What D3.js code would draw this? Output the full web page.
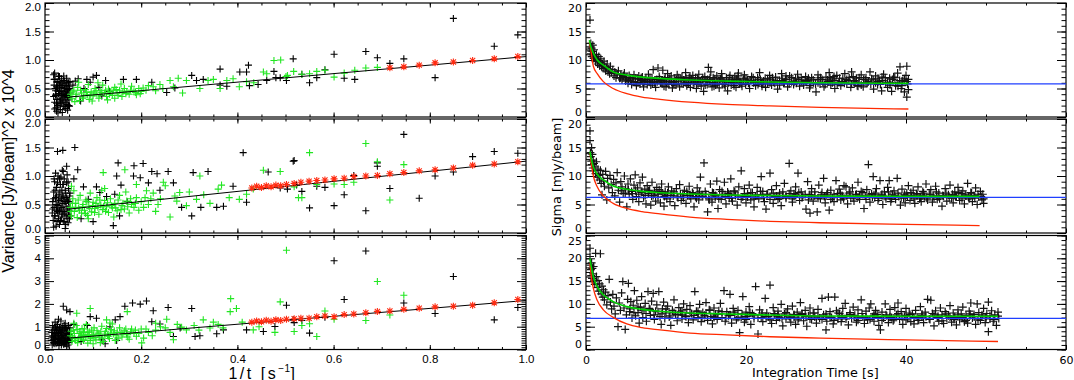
<!DOCTYPE html>
<html>
<head>
<meta charset="utf-8">
<script src="https://cdn.jsdelivr.net/npm/d3@7"></script>
<style>
  body { margin: 0; background: #fff; }
  svg { display: block; }
</style>
</head>
<body>
<svg width="1074" height="380"></svg>
<script>
// ---------- left column: variance vs 1/t ----------
const blackL1 = [
  [0.018,0.74],[0.020,0.77],[0.021,0.66],[0.019,0.56],[0.022,0.46],[0.018,0.36],[0.020,0.26],[0.023,0.16],[0.024,0.10],[0.025,0.31],
  [0.026,0.51],[0.027,0.61],[0.028,0.41],[0.029,0.21],[0.030,0.55],[0.031,0.33],[0.032,0.13],[0.033,0.47],[0.034,0.67],[0.035,0.26],
  [0.036,0.40],[0.037,0.58],[0.038,0.19],[0.039,0.35],[0.040,0.50],[0.041,0.63],[0.042,0.28],[0.043,0.15],[0.044,0.44],[0.045,0.55],
  [0.046,0.22],[0.047,0.36],[0.048,0.48],[0.049,0.60],[0.050,0.30],[0.051,0.19],[0.052,0.42],[0.024,0.53],[0.030,0.71],[0.036,0.08],
  [0.045,0.68],[0.050,0.53],[0.027,0.07],[0.033,0.24],[0.041,0.37],[0.047,0.12],[0.022,0.38],[0.039,0.72],
  [0.019,0.66],[0.021,0.50],[0.023,0.40],[0.025,0.62],[0.026,0.20],[0.028,0.72],[0.029,0.45],[0.031,0.60],[0.032,0.28],[0.034,0.38],
  [0.035,0.52],[0.037,0.30],[0.038,0.64],[0.040,0.18],[0.042,0.55],[0.043,0.40],[0.044,0.25],[0.046,0.60],[0.048,0.34],[0.049,0.20],
  [0.051,0.50],[0.052,0.62],[0.020,0.14],[0.024,0.24],[0.030,0.45],[0.033,0.58],[0.039,0.42],[0.041,0.50],[0.045,0.38],[0.047,0.46],
  [0.058,0.56],[0.063,0.63],[0.069,0.67],[0.074,0.28],[0.081,0.50],[0.087,0.66],[0.094,0.61],[0.100,0.70],[0.107,0.73],[0.112,0.52],
  [0.118,0.37],[0.126,0.64],[0.134,0.45],[0.163,0.66],[0.190,0.66],[0.222,0.61],[0.253,0.43],[0.270,0.51],[0.305,0.73],[0.315,0.64],
  [0.329,0.66],[0.364,0.84],[0.364,0.56],[0.378,0.54],[0.405,0.79],[0.419,0.79],[0.423,0.91],[0.425,0.55],[0.443,0.57],[0.461,0.64],
  [0.476,0.80],[0.480,0.69],[0.502,0.64],[0.516,1.02],[0.489,0.69],[0.534,0.75],[0.550,0.60],[0.565,0.69],[0.582,0.83],[0.601,1.10],
  [0.622,0.68],[0.644,0.66],[0.667,1.15],[0.691,1.04],[0.717,0.94],[0.746,1.02],[0.811,0.69],[0.849,1.73],[0.934,1.24],[0.983,1.44]
];
const greenL1 = [
  [0.053,0.40],[0.056,0.32],[0.060,0.47],[0.064,0.36],[0.068,0.52],[0.072,0.29],[0.076,0.42],[0.080,0.35],[0.084,0.48],[0.088,0.39],
  [0.092,0.31],[0.096,0.44],[0.100,0.37],[0.104,0.50],[0.108,0.40],[0.112,0.33],[0.116,0.46],[0.120,0.56],[0.124,0.42],[0.128,0.36],
  [0.132,0.49],[0.136,0.44],[0.140,0.38],[0.145,0.52],[0.150,0.42],[0.155,0.47],[0.160,0.36],[0.165,0.50],[0.170,0.44],[0.175,0.40],
  [0.180,0.54],[0.185,0.46],[0.190,0.39],[0.195,0.50],[0.200,0.45],[0.110,0.60],[0.090,0.57],[0.070,0.61],[0.130,0.30],[0.062,0.27],
  [0.098,0.28],[0.145,0.33],[0.158,0.58],
  [0.054,0.36],[0.058,0.44],[0.066,0.40],[0.074,0.47],[0.078,0.33],[0.086,0.43],[0.094,0.38],[0.102,0.42],[0.106,0.46],[0.114,0.39],
  [0.118,0.43],[0.126,0.47],[0.134,0.40],[0.142,0.46],[0.148,0.48],[0.152,0.38],[0.162,0.44],[0.168,0.41],[0.178,0.47],[0.188,0.43],
  [0.198,0.41],[0.210,0.47],[0.215,0.55],[0.230,0.46],[0.245,0.50],
  [0.204,0.51],[0.225,0.53],[0.239,0.57],[0.260,0.64],[0.267,0.53],[0.277,0.68],[0.286,0.42],[0.294,0.64],[0.322,0.50],[0.339,0.64],
  [0.350,0.66],[0.364,0.50],[0.378,0.64],[0.391,0.67],[0.404,0.53],[0.419,0.62],[0.434,0.60],[0.454,0.79],[0.461,0.76],[0.476,0.99],
  [0.490,1.00],[0.501,0.71],[0.517,0.80],[0.504,0.73],[0.534,0.75],[0.550,0.76],[0.565,0.80],[0.582,0.82],[0.601,0.70],[0.622,0.77],
  [0.644,0.82],[0.667,0.86],[0.691,0.87]
];
const blackL2 = [
  [0.015,0.35],[0.016,0.55],[0.017,0.22],[0.018,0.72],[0.019,0.45],[0.020,0.90],[0.021,0.30],[0.022,0.62],[0.023,0.12],[0.024,0.80],
  [0.025,0.50],[0.026,0.38],[0.027,1.00],[0.028,0.25],[0.029,0.68],[0.030,0.15],[0.031,0.57],[0.032,0.85],[0.033,0.42],[0.034,0.28],
  [0.035,0.75],[0.036,1.10],[0.037,0.52],[0.038,0.20],[0.039,0.63],[0.040,0.95],[0.041,0.35],[0.042,0.08],[0.043,0.70],[0.044,0.47],
  [0.045,0.88],[0.046,0.26],[0.047,0.58],[0.048,0.18],[0.049,0.78],[0.050,0.40],[0.051,0.65],[0.052,0.30],[0.018,0.10],[0.022,1.05],
  [0.027,0.48],[0.033,0.98],[0.038,0.85],[0.043,0.55],[0.046,1.02],[0.024,0.65],[0.030,0.40],[0.036,0.33],[0.041,0.20],[0.050,0.52],
  [0.016,0.42],[0.018,0.60],[0.020,0.30],[0.021,0.75],[0.023,0.50],[0.025,0.20],[0.026,0.88],[0.028,0.58],[0.029,0.35],[0.031,0.72],
  [0.032,0.22],[0.034,0.60],[0.035,0.45],[0.037,0.85],[0.039,0.38],[0.040,0.55],[0.042,0.75],[0.044,0.30],[0.045,0.62],[0.047,0.42],
  [0.048,0.90],[0.049,0.55],[0.051,0.25],[0.052,0.70],[0.019,0.95],[0.024,0.40],[0.030,0.95],[0.036,0.65],[0.043,0.15],[0.049,0.33],
  [0.026,1.43],[0.037,1.45],[0.062,1.50],[0.045,1.17],[0.068,1.11],[0.038,1.08],[0.080,0.81],[0.090,0.59],[0.107,0.81],[0.114,0.71],
  [0.128,0.64],[0.145,0.68],[0.152,1.23],[0.149,1.00],[0.158,0.84],[0.171,0.55],[0.185,1.18],[0.204,1.22],[0.184,1.00],[0.198,0.97],
  [0.215,0.88],[0.222,1.08],[0.233,1.04],[0.239,0.75],[0.256,1.08],[0.267,0.88],[0.284,0.45],[0.305,0.30],[0.308,1.06],[0.324,0.45],
  [0.339,1.08],[0.357,0.45],[0.371,0.47],[0.391,0.82],[0.419,0.54],[0.412,1.41],[0.464,1.07],[0.516,1.26],[0.523,0.84],[0.142,0.13],
  [0.155,0.30],[0.060,0.95],[0.075,0.25],[0.100,0.20],
  [0.489,0.79],[0.504,0.77],[0.518,1.27],[0.534,0.73],[0.550,0.44],[0.565,0.82],[0.582,0.80],[0.601,0.48],[0.622,0.67],[0.642,1.01],
  [0.667,0.39],[0.691,1.17],[0.691,1.23],[0.717,0.78],[0.746,1.73],[0.778,0.61],[0.811,1.00],[0.849,1.07],[0.889,1.34],[0.934,1.43],
  [0.983,1.40]
];
const greenL2 = [
  [0.053,0.45],[0.055,0.30],[0.058,0.60],[0.061,0.38],[0.064,0.52],[0.067,0.27],[0.070,0.44],[0.073,0.66],[0.076,0.35],[0.079,0.50],
  [0.082,0.40],[0.085,0.58],[0.088,0.31],[0.091,0.47],[0.094,0.70],[0.097,0.37],[0.100,0.54],[0.104,0.43],[0.108,0.62],[0.112,0.33],
  [0.116,0.49],[0.120,0.41],[0.124,0.57],[0.128,0.46],[0.132,0.36],[0.136,0.60],[0.140,0.44],[0.145,0.52],[0.150,0.39],[0.155,0.66],
  [0.160,0.48],[0.165,0.42],[0.170,0.56],[0.175,0.35],[0.180,0.50],[0.185,0.45],[0.190,0.62],[0.195,0.40],[0.060,0.74],[0.090,0.25],
  [0.118,0.75],[0.143,0.28],[0.168,0.72],
  [0.054,0.38],[0.057,0.52],[0.063,0.45],[0.069,0.58],[0.072,0.40],[0.078,0.46],[0.084,0.34],[0.087,0.55],[0.093,0.43],[0.099,0.48],
  [0.103,0.36],[0.106,0.52],[0.110,0.45],[0.114,0.58],[0.122,0.47],[0.126,0.38],[0.130,0.53],[0.138,0.48],[0.147,0.44],[0.152,0.58],
  [0.158,0.41],[0.162,0.52],[0.172,0.46],[0.178,0.60],[0.188,0.52],[0.200,0.55],[0.208,0.62],[0.215,0.50],[0.225,0.70],[0.240,0.60],
  [0.055,0.82],[0.121,1.06],[0.124,0.78],[0.166,1.11],[0.190,0.85],[0.211,0.74],[0.246,0.89],[0.250,0.83],[0.260,0.28],[0.274,0.56],
  [0.280,0.71],[0.294,0.48],[0.300,0.72],[0.315,0.59],[0.322,1.00],[0.330,0.67],[0.343,0.52],[0.360,0.77],[0.367,0.84],[0.383,0.62],
  [0.404,0.59],[0.419,0.68],[0.433,0.77],[0.454,1.10],[0.489,1.08],[0.527,0.62],[0.518,0.81],[0.534,0.62],[0.550,1.41],[0.565,0.85],
  [0.601,0.86],[0.622,0.85],[0.642,0.89],[0.667,1.57],[0.691,1.25],[0.717,0.58],[0.746,1.20],[0.220,0.60],[0.235,0.50],[0.270,0.65],
  [0.205,0.45],[0.230,0.38]
];
const blackL3 = [
  [0.013,0.40],[0.014,0.75],[0.015,0.20],[0.016,1.05],[0.017,0.55],[0.018,0.30],[0.019,0.90],[0.020,0.45],[0.021,1.20],[0.022,0.65],
  [0.023,0.25],[0.024,0.85],[0.025,0.50],[0.026,1.10],[0.027,0.35],[0.028,0.70],[0.029,0.18],[0.030,0.95],[0.031,0.58],[0.032,0.40],
  [0.033,1.25],[0.034,0.78],[0.035,0.28],[0.036,0.62],[0.037,1.00],[0.038,0.48],[0.039,0.22],[0.040,0.85],[0.041,0.55],[0.042,1.15],
  [0.043,0.35],[0.044,0.72],[0.045,0.15],[0.046,0.95],[0.047,0.45],[0.048,0.65],[0.049,1.05],[0.050,0.30],[0.051,0.80],[0.052,0.52],
  [0.016,0.60],[0.022,0.95],[0.028,0.45],[0.034,0.55],[0.040,0.30],[0.046,0.70],[0.025,0.75],[0.031,0.85],[0.037,0.38],[0.043,0.95],
  [0.014,0.55],[0.016,0.85],[0.018,0.45],[0.020,0.70],[0.022,0.35],[0.023,1.00],[0.025,0.60],[0.027,0.85],[0.029,0.50],[0.030,0.30],
  [0.032,0.75],[0.033,0.95],[0.035,0.45],[0.036,0.85],[0.038,0.65],[0.040,1.05],[0.041,0.40],[0.043,0.60],[0.044,0.90],[0.046,0.50],
  [0.047,0.80],[0.049,0.40],[0.050,0.65],[0.052,0.95],[0.019,0.25],[0.026,0.30],[0.034,0.20],[0.042,0.25],[0.048,0.20],[0.051,0.45],
  [0.038,1.90],[0.045,1.73],[0.052,1.66],[0.028,1.33],[0.094,1.44],[0.107,1.37],[0.118,0.43],[0.146,1.30],[0.149,0.40],[0.156,1.44],
  [0.166,1.90],[0.182,2.04],[0.198,1.99],[0.211,2.13],[0.225,1.70],[0.222,1.22],[0.239,1.12],[0.256,1.84],[0.267,0.57],[0.281,0.94],
  [0.305,1.80],[0.312,0.57],[0.322,0.60],[0.357,0.69],[0.371,0.86],[0.419,0.86],[0.454,0.79],[0.478,1.01],[0.502,1.94],[0.516,1.30],
  [0.060,1.10],[0.075,0.35],[0.088,1.05],[0.125,0.25],[0.135,1.00],[0.170,0.70],
  [0.518,1.18],[0.534,1.27],[0.550,0.72],[0.582,1.41],[0.601,3.89],[0.622,2.19],[0.667,4.32],[0.746,2.04],[0.811,1.58],[0.849,3.20],
  [0.934,1.30],[0.983,1.84]
];
const greenL3 = [
  [0.053,0.60],[0.056,0.35],[0.059,0.85],[0.062,0.48],[0.065,1.05],[0.068,0.30],[0.071,0.70],[0.074,0.55],[0.077,0.92],[0.080,0.40],
  [0.083,0.65],[0.086,1.10],[0.089,0.28],[0.092,0.78],[0.095,0.50],[0.098,0.62],[0.102,0.95],[0.106,0.42],[0.110,0.72],[0.114,0.55],
  [0.118,1.02],[0.122,0.35],[0.126,0.80],[0.130,0.60],[0.134,0.48],[0.138,0.88],[0.142,0.68],[0.146,0.40],[0.150,0.75],[0.155,0.95],
  [0.160,0.55],[0.165,0.82],[0.170,0.65],[0.175,0.45],[0.180,0.90],[0.185,0.70],[0.190,0.58],[0.060,1.15],[0.100,0.25],[0.140,1.12],
  [0.115,0.30],[0.080,0.75],
  [0.054,0.80],[0.057,0.55],[0.061,0.70],[0.064,0.40],[0.067,0.88],[0.070,0.50],[0.073,0.78],[0.076,0.62],[0.079,0.45],[0.082,0.90],
  [0.085,0.55],[0.088,0.75],[0.091,0.62],[0.094,0.40],[0.097,0.85],[0.101,0.65],[0.104,0.52],[0.108,0.82],[0.112,0.62],[0.116,0.78],
  [0.120,0.50],[0.124,0.68],[0.128,0.92],[0.132,0.58],[0.136,0.72],[0.144,0.82],[0.148,0.60],[0.152,0.50],[0.158,0.75],[0.162,0.68],
  [0.168,0.90],[0.172,0.55],[0.178,0.78],[0.188,0.85],[0.195,0.70],[0.200,0.90],[0.215,0.75],[0.230,0.85],[0.250,0.95],
  [0.066,1.59],[0.094,1.80],[0.128,1.30],[0.135,1.16],[0.171,1.66],[0.201,0.29],[0.205,0.50],[0.223,0.60],[0.253,1.33],[0.267,0.43],
  [0.284,0.98],[0.294,0.86],[0.329,1.30],[0.343,0.94],[0.385,1.66],[0.386,2.23],[0.398,1.80],[0.433,0.86],[0.502,4.35],[0.489,2.09],
  [0.478,0.75],[0.518,0.79],[0.534,1.05],[0.550,1.13],[0.565,0.57],[0.582,1.69],[0.601,1.33],[0.667,1.27],[0.691,2.98],[0.717,1.51],
  [0.746,2.38],[0.210,0.90],[0.240,1.00],[0.260,0.75],[0.310,1.05],[0.360,1.10],[0.370,0.95],[0.410,1.20],[0.445,1.00],[0.230,1.15],
  [0.275,1.10],[0.320,0.85],[0.350,1.20]
];
// red asterisks share the same 1/t positions
const redX  = [0.43,0.44,0.45,0.46,0.47,0.48,0.49,0.502,0.518,0.532,0.549,0.565,0.582,0.601,0.622,0.642,0.667,0.691,0.717,0.746,0.778,0.811,0.849,0.889,0.934,0.983];
const redL1 = [0.865,0.88,0.91,0.95,0.965,0.99,1.02,1.06];
const redL2 = [0.79,0.82,0.80,0.83,0.81,0.84,0.83,0.85,0.87,0.89,0.91,0.92,0.93,0.95,0.96,0.99,1.00,1.01,1.04,1.06,1.09,1.11,1.14,1.19,1.21,1.25];
const redL3 = [1.20,1.25,1.22,1.28,1.24,1.30,1.27,1.33,1.35,1.37,1.37,1.44,1.47,1.44,1.53,1.56,1.61,1.67,1.69,1.76,1.81,1.87,1.90,1.94,2.05,2.19];
const fitL1 = [[0.05,0.35],[1.0,1.06]];
const fitL2 = [[0.05,0.42],[1.0,1.26]];
const fitL3 = [[0.05,0.50],[1.0,2.15]];

// ---------- right column: sigma vs integration time ----------
const sigmaR1 = [
  [0.5,17.0],[0.5,12.3],[0.55,11.6],[0.6,12.9],[0.62,11.1],[0.7,12.1],[0.72,10.6],[0.8,11.5],[0.85,12.6],[0.9,10.9],
  [0.95,10.3],[1.0,11.8],[1.05,10.7],[1.15,10.4],[1.2,9.7],[1.3,11.0],[1.4,10.1],[1.45,9.3],[1.55,9.9],[1.6,10.6],
  [1.7,9.0],[1.8,9.6],[1.85,10.2],[1.95,8.8],[2.05,9.3],[2.15,8.5],[2.25,9.8],[2.35,8.9],[2.45,8.1],[2.55,8.7],
  [2.65,9.3],[2.75,7.9],[2.85,8.4],[2.95,7.6],[3.05,8.9],[3.2,7.8],[3.35,8.3],[3.5,7.2],[3.6,7.9],[3.75,6.9],
  [3.9,7.6],[4.05,8.1],[4.2,6.8],[4.35,7.4],[4.5,6.5],[4.65,7.1],[4.8,7.7],[4.95,6.3],[5.1,6.9],[5.25,5.9],
  [5.4,7.3],[5.55,6.5],[5.7,5.7],[5.85,6.8],[6.0,7.4],[6.15,6.1],[6.3,5.5],[6.45,6.7],[6.6,7.2],[6.75,5.8],
  [6.9,6.4],[7.05,7.0],[7.2,5.3],[7.35,6.2],[7.5,6.9],[7.65,5.7],[7.8,7.5],[7.95,6.3],[8.1,5.6],[8.25,6.8],
  [8.4,8.3],[8.55,6.0],[8.7,5.2],[8.85,6.6],[9.0,8.6],[9.15,7.1],[9.3,5.9],[9.45,6.4],[9.6,8.2],[9.75,5.4],
  [9.9,6.9],[10.05,6.2],[10.2,7.6],[10.35,5.7],[10.5,6.5],[10.65,7.2],[10.8,5.1],[10.95,6.0],[11.1,6.8],[11.25,5.6],
  [11.4,7.4],[11.55,6.3],[11.7,5.3],[11.85,6.7],[12.0,7.0],[12.15,5.8],[12.3,6.4],[12.45,7.8],[12.6,5.5],[12.75,6.1],
  [12.9,6.9],[13.05,5.2],[13.2,6.6],[13.35,7.3],[13.5,5.9],[13.65,6.3],[13.8,5.0],[13.95,6.8],[14.1,7.5],[14.25,6.0],
  [14.4,5.4],[14.55,6.6],[14.7,4.5],[14.85,7.1],[15.0,6.2],[15.15,5.7],[15.3,8.7],[15.45,6.5],[15.6,7.9],[15.75,5.3],
  [15.9,6.9],[16.05,6.0],[16.2,5.6],[16.35,7.2],[16.5,6.4],[16.65,5.1],[16.8,6.7],[16.95,7.6],[17.1,5.8],[17.25,6.3],
  [17.4,5.4],[17.55,6.9],[17.7,4.6],[17.85,6.1],[18.0,7.3],[18.15,5.6],[18.3,6.5],[18.45,6.0],[18.6,7.0],[18.75,5.2],
  [18.9,6.6],[19.05,7.7],[19.2,5.9],[19.35,6.2],[19.5,5.4],[19.65,6.8],[19.8,7.4],[19.95,5.7],[20.2,6.5],[20.45,5.0],
  [20.7,7.1],[20.95,6.0],[21.2,5.5],[21.45,6.9],[21.7,7.8],[21.95,5.8],[22.2,6.3],[22.45,5.2],[22.7,6.7],[22.95,7.3],
  [23.2,5.6],[23.45,6.1],[23.7,7.0],[23.95,4.9],[24.2,6.4],[24.45,7.6],[24.7,5.9],[24.95,6.6],[25.2,5.3],[25.45,7.2],
  [25.7,6.2],[25.95,5.7],[26.2,6.8],[26.45,7.5],[26.7,5.4],[26.95,6.3],[27.2,5.9],[27.45,7.1],[27.7,6.5],[27.95,5.1],
  [28.2,6.9],[28.45,6.0],[28.75,4.4],[29.0,7.4],[29.25,5.8],[29.5,6.6],[29.75,5.3],[30.0,7.0],[30.25,6.2],[30.4,7.8],
  [30.6,5.6],[30.85,6.7],[31.1,5.0],[31.35,7.3],[31.6,6.1],[31.85,5.5],[32.1,6.8],[32.35,7.6],[32.6,5.8],[32.85,6.4],
  [33.1,5.2],[33.2,7.9],[33.4,7.1],[33.65,6.0],[33.9,5.5],[34.15,6.9],[34.4,7.4],[34.65,5.3],[34.9,6.5],[35.15,5.9],
  [35.5,7.9],[35.7,6.7],[35.95,4.9],[36.2,7.2],[36.45,5.7],[36.7,6.3],[36.95,4.6],[37.2,7.5],[37.45,6.0],[37.7,5.2],
  [37.95,6.8],[38.2,4.5],[38.45,7.0],[38.7,5.5],[38.95,7.7],[39.25,8.8],[39.4,5.0],[39.6,6.4],[39.8,4.4],[40.0,7.3],
  [40.1,8.9],[40.1,3.5],[40.2,5.8],[40.3,6.6],[40.3,4.8],
  [5.3,6.4],[6.8,6.6],[8.0,6.1],[9.5,5.8],[11.0,6.2],[12.5,6.0],[14.0,6.5],[15.5,6.1],[17.0,6.4],[18.5,5.9],
  [20.0,6.2],[21.5,6.5],[23.0,6.0],[24.5,6.3],[26.0,6.1],[27.5,6.4],[29.0,6.0],[30.5,6.3],[32.0,6.1],[33.5,6.4],
  [35.0,6.0],[36.5,6.2],[38.0,6.1],[39.5,6.3],[10.0,5.3],[13.0,7.2],[16.0,5.4],[19.0,7.2],[22.0,5.4],[25.0,7.2],
  [28.0,5.5],[31.0,7.1],[34.0,5.4],[37.0,7.0],[39.0,5.4],
  [4.3,6.9],[4.7,7.3],[5.0,6.7],[5.6,6.9],[5.9,6.2],[6.2,6.8],[6.5,6.0],[6.9,6.9],[7.1,6.1],[7.4,6.6],
  [7.7,6.3],[8.0,6.9],[8.3,5.9],[8.6,6.5],[8.9,6.2],[9.2,6.7],[9.5,6.0],[9.8,6.6],[10.1,5.9],[10.4,6.8],
  [10.7,6.1],[11.0,5.7],[11.3,6.6],[11.6,6.9],[11.9,5.9],[12.2,6.5],[12.5,6.8],[12.8,5.8],[13.1,6.4],[13.4,6.1],
  [13.7,6.9],[14.0,5.7],[14.3,6.3],[14.6,6.9],[14.9,5.6],[15.2,6.6],[15.5,6.9],[15.8,6.0],[16.1,6.7],[16.4,5.8],
  [16.7,6.3],[17.0,6.9],[17.3,5.7],[17.6,6.5],[17.9,6.9],[18.2,6.1],[18.5,5.5],[18.8,6.7],[19.1,6.3],[19.4,5.8],
  [19.7,6.5],[20.0,6.8],[20.3,5.9],[20.6,6.4],[20.9,6.9],[21.2,6.1],[21.5,5.7],[21.8,6.6],[22.1,6.0],[22.4,6.8],
  [22.7,5.8],[23.0,6.5],[23.3,6.9],[23.6,5.9],[23.9,6.3],[24.2,5.6],[24.5,6.8],[24.8,6.1],[25.1,6.6],[25.4,5.8],
  [25.7,6.9],[26.0,6.3],[26.3,5.9],[26.6,6.6],[26.9,6.9],[27.2,5.6],[27.5,6.2],[27.8,6.8],[28.1,6.0],[28.4,6.5],
  [28.7,5.8],[29.0,6.6],[29.3,6.9],[29.6,6.1],[29.9,5.7],[30.2,6.5],[30.5,6.9],[30.8,6.0],[31.1,6.4],[31.4,5.7],
  [31.7,6.8],[32.0,6.2],[32.3,5.9],[32.6,6.6],[32.9,6.9],[33.2,5.8],[33.5,6.3],[33.8,6.8],[34.1,6.0],[34.4,5.6],
  [34.7,6.6],[35.0,6.9],[35.3,6.2],[35.6,5.8],[35.9,6.5],[36.2,6.0],[36.5,6.8],[36.8,5.7],[37.1,6.4],[37.4,6.9],
  [37.7,6.1],[38.0,5.6],[38.3,6.6],[38.6,6.9],[38.9,6.0],[39.2,6.4],[39.5,5.5],[39.8,6.7],[40.1,6.2]
];
const sigmaR2 = [
  [0.5,17.9],[0.5,16.2],[0.55,14.1],[0.6,13.4],[0.65,12.6],[0.7,15.0],[0.75,12.0],[0.8,13.8],[0.85,11.4],[0.9,12.8],
  [0.95,10.9],[1.0,12.2],[1.1,11.6],[1.2,10.4],[1.3,12.5],[1.4,9.8],[1.5,11.2],[1.6,10.1],[1.7,9.3],[1.8,11.0],
  [1.9,8.7],[2.0,6.7],[2.1,10.3],[2.2,9.1],[2.3,8.2],[2.45,10.8],[2.6,5.8],[2.7,9.6],[2.85,7.9],[3.0,10.1],
  [3.15,8.5],[3.3,7.1],[3.45,9.4],[3.6,6.5],[3.75,8.8],[3.9,10.6],[4.05,7.5],[4.2,5.4],[4.35,9.0],[4.5,8.1],
  [4.65,6.9],[4.8,10.0],[4.95,7.8],[5.1,4.6],[5.25,8.6],[5.4,6.8],[5.55,9.5],[5.7,7.3],[5.85,5.9],[6.0,8.4],
  [6.15,10.2],[6.3,6.4],[6.45,7.9],[6.6,5.5],[6.75,8.8],[6.9,7.1],[7.05,9.8],[7.2,6.2],[7.35,7.7],[7.5,5.1],
  [7.65,8.3],[7.8,6.9],[7.95,7.5],[8.1,4.9],[8.25,8.9],[8.4,6.6],[8.55,7.3],[8.7,5.6],[8.85,8.0],[9.0,6.3],
  [9.15,7.6],[9.3,5.3],[9.45,8.6],[9.6,6.9],[9.75,4.7],[9.9,7.2],[10.1,6.0],[10.3,8.1],[10.5,5.5],[10.7,7.4],
  [10.9,6.5],[11.1,4.8],[11.3,7.8],[11.5,6.2],[11.7,8.5],[11.9,5.7],[12.1,6.9],[12.3,7.5],[12.5,5.2],[12.7,6.6],
  [12.9,8.2],[13.1,6.0],[13.3,7.1],[13.5,4.6],[13.7,6.4],[13.9,7.9],[14.1,5.8],[14.3,9.8],[14.5,6.7],[14.75,12.3],
  [14.9,7.3],[15.2,3.7],[15.35,6.1],[15.55,8.6],[15.75,5.4],[15.95,7.0],[16.15,6.3],[16.35,9.1],[16.5,4.3],[16.7,7.6],
  [16.9,5.9],[17.1,6.8],[17.3,8.9],[17.5,5.1],[17.7,7.2],[17.9,6.1],[18.1,9.5],[18.3,5.6],[18.5,7.4],[18.7,6.6],
  [18.9,4.9],[19.1,8.1],[19.4,10.9],[19.6,6.3],[19.8,7.8],[20.0,5.3],[20.2,6.9],[20.4,8.4],[20.6,5.8],[20.8,7.1],
  [21.0,4.6],[21.2,6.5],[21.4,8.0],[21.6,6.0],[21.9,9.9],[22.1,7.3],[22.3,5.5],[22.5,4.2],[22.7,6.8],[23.0,10.5],
  [23.2,7.6],[23.4,5.2],[23.6,6.4],[23.8,8.3],[24.0,5.9],[24.2,7.0],[24.4,4.8],[24.6,6.6],[24.8,8.7],[25.0,6.1],
  [25.4,12.2],[25.6,7.4],[25.8,5.4],[26.0,6.9],[26.2,8.1],[26.5,10.5],[26.7,5.7],[26.9,7.2],[27.1,6.3],[27.5,4.2],
  [27.7,9.0],[27.9,6.7],[28.0,3.5],[28.2,7.8],[28.4,5.6],[28.6,6.5],[28.9,3.7],[29.1,8.4],[29.3,6.0],[29.5,7.1],
  [29.7,9.6],[29.9,5.3],[30.1,6.8],[30.4,4.0],[30.6,7.5],[30.8,6.2],[31.0,5.5],[31.25,9.2],[31.45,6.9],[31.65,7.7],
  [31.85,5.8],[32.05,6.4],[32.25,8.3],[32.5,8.1],[32.7,5.1],[32.9,7.0],[33.1,6.1],[33.3,7.9],[33.5,5.6],[33.7,6.7],
  [34.0,8.9],[34.2,5.9],[34.4,7.3],[34.75,4.3],[34.9,6.5],[35.1,7.6],[35.3,12.0],[35.5,5.4],[35.7,6.9],[35.9,9.9],
  [36.1,6.2],[36.3,7.8],[36.5,5.7],[36.75,9.2],[36.9,6.6],[37.1,5.0],[37.3,7.2],[37.5,6.0],[37.7,8.0],[37.9,9.2],
  [38.1,5.5],[38.3,6.8],[38.5,7.4],[38.7,5.9],[38.9,9.6],[39.1,6.4],[39.3,4.9],[39.5,7.7],[39.7,6.1],[39.9,5.3],
  [40.1,7.0],[40.3,8.3],[40.5,5.7],[40.7,6.6],[40.9,7.5],[41.1,5.2],[41.3,6.9],[41.5,8.1],[41.7,6.0],[41.9,5.5],
  [42.1,7.3],[42.3,6.4],[42.5,8.6],[42.7,5.8],[42.9,6.8],[43.1,7.6],[43.3,5.4],[43.5,6.2],[43.7,8.2],[43.9,5.9],
  [44.1,7.0],[44.5,4.7],[44.7,6.5],[44.9,7.8],[45.1,5.6],[45.3,6.7],[45.5,8.4],[45.7,6.1],[45.9,5.3],[46.1,7.2],
  [46.3,6.3],[46.5,8.0],[46.7,5.7],[46.9,6.9],[47.1,7.4],[47.3,5.1],[47.5,6.5],[47.7,8.7],[47.9,6.0],[48.1,7.1],
  [48.3,5.5],[48.5,6.6],[48.7,7.9],[48.9,5.0],[49.1,6.3],[49.3,7.3],[49.5,5.8],[49.6,6.8],[49.7,5.2],
  [10,6.6],[12,6.3],[14,6.9],[16,6.5],[18,6.8],[20,6.4],[22,6.7],[24,6.5],[26,6.4],[28,6.7],
  [30,6.5],[32,6.6],[34,6.3],[36,6.7],[38,6.4],[40,6.6],[42,6.5],[44,6.3],[46,6.6],[48,6.4],
  [4.4,7.4],[4.9,7.0],[5.3,7.6],[5.8,6.9],[6.2,7.5],[6.6,6.8],[7.0,7.3],[7.4,6.6],[7.8,7.4],[8.2,6.5],
  [8.6,7.1],[9.0,6.8],[9.4,7.3],[9.8,6.4],[10.2,7.0],[10.6,6.6],[11.0,7.2],[11.4,6.3],[11.8,6.9],[12.2,6.2],
  [12.6,7.3],[13.0,6.5],[13.4,6.9],[13.8,6.1],[14.2,7.2],[14.6,6.4],[15.0,6.8],[15.4,5.8],[15.8,7.1],[16.2,6.6],
  [16.6,6.0],[17.0,7.3],[17.4,6.4],[17.8,6.9],[18.2,6.1],[18.6,7.2],[19.0,6.5],[19.4,5.9],[19.8,6.9],[20.2,6.3],
  [20.6,7.1],[21.0,6.0],[21.4,6.7],[21.8,7.3],[22.2,6.2],[22.6,6.8],[23.0,5.9],[23.4,7.0],[23.8,6.5],[24.2,6.1],
  [24.6,7.2],[25.0,6.4],[25.4,6.9],[25.8,6.0],[26.2,6.7],[26.6,7.1],[27.0,6.2],[27.4,6.8],[27.8,5.8],[28.2,6.5],
  [28.6,7.2],[29.0,6.1],[29.4,6.7],[29.8,6.4],[30.2,7.1],[30.6,5.9],[31.0,6.8],[31.4,6.3],[31.8,7.0],[32.2,6.0],
  [32.6,6.6],[33.0,7.2],[33.4,6.2],[33.8,6.8],[34.2,6.5],[34.6,7.1],[35.0,5.9],[35.4,6.7],[35.8,6.3],[36.2,7.0],
  [36.6,6.1],[37.0,6.8],[37.4,6.4],[37.8,7.2],[38.2,6.0],[38.6,6.6],[39.0,7.0],[39.4,6.2],[39.8,6.8],[40.2,6.4],
  [40.6,7.1],[41.0,6.0],[41.4,6.7],[41.8,6.3],[42.2,7.0],[42.6,6.1],[43.0,6.8],[43.4,6.5],[43.8,7.2],[44.2,6.0],
  [44.6,6.6],[45.0,7.0],[45.4,6.2],[45.8,6.8],[46.2,6.4],[46.6,7.1],[47.0,6.0],[47.4,6.7],[47.8,6.3],[48.2,7.0],
  [48.6,6.1],[49.0,6.8],[49.4,6.4],[49.7,6.0]
];
const sigmaR3 = [
  [0.5,22.2],[0.5,20.4],[0.55,18.5],[0.6,17.5],[0.65,16.2],[0.7,19.0],[0.75,15.6],[0.8,17.8],[0.85,14.9],[0.9,16.6],
  [0.95,18.2],[1.0,15.2],[1.1,14.3],[1.2,21.1],[1.3,16.0],[1.4,13.6],[1.5,15.1],[1.6,12.8],[1.7,14.4],[1.8,21.0],
  [1.9,12.2],[2.0,13.9],[2.1,11.5],[2.2,13.1],[2.3,10.9],[2.45,12.6],[2.6,9.8],[2.75,11.8],[2.9,15.4],[3.05,10.4],
  [3.2,8.9],[3.35,12.1],[3.5,9.5],[3.65,7.8],[3.8,11.3],[4.0,5.0],[4.15,10.2],[4.3,8.6],[4.45,12.4],[4.6,14.9],
  [4.75,9.1],[4.9,4.4],[5.05,7.6],[5.2,11.0],[5.3,14.5],[5.45,8.3],[5.6,10.5],[5.75,6.9],[5.9,9.7],[6.05,12.9],
  [6.2,7.4],[6.35,10.8],[6.5,8.1],[6.65,5.8],[6.8,9.3],[6.95,11.6],[7.1,7.0],[7.25,8.8],[7.4,10.1],[7.55,6.2],
  [7.75,12.7],[7.9,9.0],[8.05,7.5],[8.2,10.6],[8.4,12.3],[8.55,6.6],[8.7,8.4],[8.85,9.8],[9.1,12.7],[9.25,7.2],
  [9.4,5.5],[9.55,8.9],[9.7,10.4],[9.85,6.8],[10.0,8.0],[10.2,9.5],[10.4,7.1],[10.6,5.3],[10.8,8.6],[11.0,10.9],
  [11.2,7.7],[11.4,6.3],[11.6,9.2],[11.8,8.2],[12.0,6.7],[12.2,10.0],[12.4,7.4],[12.6,8.8],[12.8,5.9],[13.0,9.6],
  [13.2,7.9],[13.4,6.5],[13.6,12.7],[13.8,8.4],[14.0,7.0],[14.2,9.9],[14.4,6.1],[14.6,8.1],[14.8,7.5],[15.0,10.3],
  [15.2,6.4],[15.4,8.7],[15.6,7.2],[15.8,5.6],[16.0,9.1],[16.2,7.8],[16.4,6.6],[16.6,8.5],[16.8,10.1],[17.0,7.0],
  [17.25,12.9],[17.4,6.2],[17.6,8.3],[17.8,7.4],[18.0,12.1],[18.2,5.8],[18.4,9.0],[18.6,7.7],[18.8,6.5],[19.0,8.6],
  [19.2,3.7],[19.4,7.1],[19.6,11.6],[19.8,6.0],[20.0,8.2],[20.2,7.3],[20.4,9.4],[20.6,5.5],[20.8,7.9],[21.0,6.8],
  [21.2,13.8],[21.5,3.4],[21.7,8.7],[21.9,7.0],[22.1,6.1],[22.4,11.2],[22.6,8.0],[22.8,7.2],[23.0,14.1],[23.2,5.7],
  [23.4,9.2],[23.6,7.6],[23.8,6.4],[24.0,8.4],[24.2,7.0],[24.4,9.9],[24.6,5.2],[24.8,7.8],[25.0,6.7],[25.2,8.9],
  [25.4,7.3],[25.6,6.0],[25.8,9.5],[26.0,7.5],[26.2,5.5],[26.4,8.2],[26.6,6.9],[26.8,10.3],[27.0,7.7],[27.2,6.3],
  [27.4,8.6],[27.6,5.1],[27.8,7.4],[28.0,9.1],[28.2,6.6],[28.4,8.0],[28.6,7.1],[28.8,5.8],[29.0,8.8],[29.2,6.9],
  [29.5,11.2],[29.7,7.6],[30.0,4.3],[30.1,6.2],[30.3,11.5],[30.5,8.3],[30.7,7.0],[30.9,5.6],[31.1,11.5],[31.3,8.5],
  [31.5,6.7],[31.7,7.9],[31.9,6.1],[32.1,9.0],[32.4,10.1],[32.6,7.3],[32.8,5.4],[33.0,8.1],[33.2,6.8],[33.4,9.3],
  [33.6,7.5],[33.8,6.0],[34.0,8.7],[34.4,10.9],[34.6,7.1],[34.8,5.7],[35.0,8.4],[35.2,6.5],[35.4,9.1],[35.6,10.0],
  [35.8,7.2],[36.0,6.2],[36.2,8.6],[36.4,7.7],[36.6,5.3],[36.8,4.3],[37.0,8.2],[37.2,6.9],[37.4,10.0],[37.6,7.4],
  [37.8,5.9],[38.0,8.8],[38.2,7.0],[38.4,6.3],[38.6,9.2],[38.8,7.6],[39.0,10.2],[39.2,6.6],[39.4,8.3],[39.6,5.5],
  [39.8,7.3],[40.0,9.0],[40.2,6.8],[40.4,8.0],[40.6,6.1],[40.8,7.8],[41.0,5.6],[41.2,8.6],[41.4,7.1],[41.6,6.4],
  [41.8,9.4],[42.0,7.5],[42.2,5.9],[42.4,8.2],[42.7,11.0],[42.9,6.7],[43.1,10.8],[43.3,7.9],[43.5,5.2],[43.7,8.5],
  [43.9,7.0],[44.1,6.2],[44.3,9.1],[44.5,7.6],[44.7,5.7],[44.9,8.3],[45.1,6.8],[45.3,7.4],[45.5,9.6],[45.7,6.0],
  [45.9,8.0],[46.1,7.2],[46.3,5.4],[46.5,8.7],[46.7,6.5],[46.9,7.8],[47.1,9.3],[47.3,6.1],[47.5,7.5],[47.7,5.8],
  [47.9,8.4],[48.1,10.2],[48.3,6.9],[48.5,7.7],[48.7,5.5],[48.9,10.0],[49.1,8.1],[49.3,6.4],[49.5,7.3],[49.7,9.0],
  [49.9,5.9],[50.1,7.9],[50.3,10.4],[50.3,3.9],[50.5,6.7],[50.7,8.5],[50.9,6.2],[51.1,7.6],[51.3,5.3],[51.5,8.2],
  [51.6,6.8],
  [12,7.6],[14,7.8],[16,7.3],[18,7.5],[20,7.2],[22,7.6],[24,7.3],[26,7.1],[28,7.4],[30,7.2],
  [32,7.5],[34,7.1],[36,7.4],[38,7.2],[40,7.5],[42,7.1],[44,7.3],[46,7.0],[48,7.4],[50,7.2],
  [5.5,8.9],[6.0,8.1],[6.5,9.3],[7.0,8.5],[7.5,7.9],[8.0,8.8],[8.5,7.6],[9.0,8.3],[9.5,7.8],[10.0,8.9],
  [10.5,7.4],[11.0,8.1],[11.5,7.6],[12.0,8.5],[12.5,7.2],[13.0,8.0],[13.5,7.5],[14.0,8.4],[14.5,7.1],[15.0,7.9],
  [15.5,8.6],[16.0,7.0],[16.5,7.7],[17.0,8.3],[17.5,6.8],[18.0,7.6],[18.5,8.2],[19.0,7.0],[19.5,7.8],[20.0,6.6],
  [20.5,8.1],[21.0,7.4],[21.5,6.9],[22.0,8.0],[22.5,7.2],[23.0,6.5],[23.5,7.9],[24.0,7.4],[24.5,6.8],[25.0,8.1],
  [25.5,7.0],[26.0,7.7],[26.5,6.5],[27.0,7.9],[27.5,7.2],[28.0,6.7],[28.5,8.0],[29.0,7.3],[29.5,6.6],[30.0,7.8],
  [30.5,7.1],[31.0,6.4],[31.5,8.0],[32.0,7.0],[32.5,6.7],[33.0,7.7],[33.5,7.2],[34.0,6.4],[34.5,7.9],[35.0,7.1],
  [35.5,6.6],[36.0,7.8],[36.5,7.0],[37.0,6.4],[37.5,7.6],[38.0,7.1],[38.5,6.6],[39.0,7.9],[39.5,7.2],[40.0,6.5],
  [40.5,7.7],[41.0,7.0],[41.5,6.4],[42.0,7.8],[42.5,7.2],[43.0,6.6],[43.5,7.6],[44.0,7.0],[44.5,6.3],[45.0,7.8],
  [45.5,7.1],[46.0,6.6],[46.5,7.6],[47.0,7.0],[47.5,6.4],[48.0,7.8],[48.5,7.2],[49.0,6.5],[49.5,7.6],[50.0,6.9],
  [50.5,7.4],[51.0,6.6],[51.5,7.3]
];
// fitted curves
const curveT1 = [0.42,0.6,0.92,1.4,2.17,3.4,5.1,7,9.25,13,17.6,23,29.25,40.3];
const greenR1 = [13.5,12.4,11.2,10.0,9.1,7.9,7.35,7.0,6.77,6.5,6.3,6.15,6.0,5.9];
const redR1   = [13.2,11.8,8.9,7.6,6.2,5.0,4.1,3.5,3.1,2.6,2.2,1.95,1.7,1.4];
const curveT2 = [0.5,0.7,0.92,1.4,2.17,3.4,5.1,7,9.25,13,17.6,23,29.25,38,49.2];
const greenR2 = [14.3,12.8,11.6,10.3,9.3,8.25,7.66,7.3,7.07,6.85,6.67,6.58,6.5,6.45,6.42];
const redR2   = [14.0,11.8,10.0,8.1,6.5,5.2,4.3,3.75,3.35,2.8,2.4,2.05,1.8,1.55,1.3];
const curveT3 = [0.5,0.7,0.92,1.4,2.17,3.4,5.1,7,9.25,13,17.6,23,29.25,40,51.5];
const greenR3 = [20.0,17.8,16.0,13.8,12.0,10.5,9.4,8.8,8.4,8.0,7.8,7.55,7.35,7.3,7.3];
const redR3   = [18.9,15.5,13.4,10.8,8.7,7.05,5.6,4.8,4.3,3.6,3.2,2.8,2.5,2.1,1.75];
const blueLevels = [5.8, 6.26, 6.84];

// ---------- layout ----------
const svg = d3.select("svg");
const panelTop = [3, 119, 235.5];
const panelH = 114;
const leftFont = "'Liberation Sans', Arial, Helvetica, sans-serif";
const rightFont = "'DejaVu Sans', 'Lucida Grande', sans-serif";

const xLeft = d3.scaleLinear().domain([0, 1]).range([45, 526]);
const xRight = d3.scaleLinear().domain([0, 60]).range([586, 1066]);

const plusPath = "M-3.5,0H3.5M0,-3.5V3.5";
const bigPlus = "M-4,0H4M0,-4V4";
const starPath = "M-3.5,0H3.5M0,-3.5V3.5M-2.6,-2.6L2.6,2.6M-2.6,2.6L2.6,-2.6";

const range = (a, b, s) => d3.range(a, b + s / 2, s).map(v => +v.toFixed(3));

const addAxis = (axis, pos, values, len, fmt, pad) => {
    const g = svg.append("g")
        .attr("transform", pos)
        .call(axis.tickValues(values).tickSize(-len).tickPadding(pad).tickFormat(fmt || ""));
    g.select(".domain").remove();
    g.selectAll("line").attr("stroke", "#000").attr("stroke-width", 1);
    return g;
};

const drawFrame = (x, y, o) => {
    const [x0, x1] = x.range();
    const [yb, yt] = y.range();
    svg.append("rect")
        .attr("x", x0).attr("y", yt)
        .attr("width", x1 - x0).attr("height", yb - yt)
        .attr("fill", "none").attr("stroke", "#000").attr("stroke-width", 1.2);

    // y ticks, pointing inward on both sides; end labels pushed inside the panel
    addAxis(d3.axisLeft(y), `translate(${x0},0)`, o.yMinor, 4.5, null, 4);
    const yl = addAxis(d3.axisLeft(y), `translate(${x0},0)`, o.yMajor, 9, o.yFmt, 4);
    yl.attr("font-family", o.font).attr("font-size", o.fs);
    yl.selectAll("text").attr("fill", "#000")
        .attr("y", d => d === y.domain()[1] ? o.nudge : (d === 0 ? -o.nudge - 0.5 : 0));
    addAxis(d3.axisRight(y), `translate(${x1},0)`, o.yMinor, 4.5, null, 4);
    addAxis(d3.axisRight(y), `translate(${x1},0)`, o.yMajor, 9, null, 4);

    // x ticks on top and bottom
    addAxis(d3.axisTop(x), `translate(0,${yt})`, o.xMinor, 2.5, null, 4);
    addAxis(d3.axisTop(x), `translate(0,${yt})`, o.xMajor, 4.5, null, 4);
    addAxis(d3.axisBottom(x), `translate(0,${yb})`, o.xMinor, 2.5, null, 4);
    const xb = addAxis(d3.axisBottom(x), `translate(0,${yb})`, o.xMajor, 4.5, o.labelX ? o.xFmt : null, o.xPad);
    xb.attr("font-family", o.font).attr("font-size", o.fs);
    xb.selectAll("text").attr("fill", "#000");
};

const drawMarks = (x, y, pts, path, color, width) => {
    svg.append("g")
        .selectAll("path")
        .data(pts)
        .enter().append("path")
        .attr("transform", d => `translate(${x(d[0])},${y(d[1])})`)
        .attr("d", path)
        .attr("fill", "none")
        .attr("stroke", color)
        .attr("stroke-width", width);
};

const drawLine = (x, y, pts, color, width, curve) => {
    svg.append("path")
        .datum(pts)
        .attr("d", d3.line().x(d => x(d[0])).y(d => y(d[1])).curve(curve || d3.curveLinear))
        .attr("fill", "none")
        .attr("stroke", color)
        .attr("stroke-width", width);
};

// ---------- left column ----------
const leftSets = [
    { dom: [0, 2], black: blackL1, green: greenL1, red: redL1, fit: fitL1, step: 0.5, minor: 0.1, fmt: d3.format(".1f") },
    { dom: [0, 2], black: blackL2, green: greenL2, red: redL2, fit: fitL2, step: 0.5, minor: 0.1, fmt: d3.format(".1f") },
    { dom: [0, 5], black: blackL3, green: greenL3, red: redL3, fit: fitL3, step: 1, minor: 0.1, fmt: d3.format("d") }
];

leftSets.forEach((p, i) => {
    const y = d3.scaleLinear().domain(p.dom).range([panelTop[i] + panelH, panelTop[i]]);
    drawFrame(xLeft, y, {
        yMajor: range(p.dom[0], p.dom[1], p.step), yMinor: range(p.dom[0], p.dom[1], p.minor), yFmt: p.fmt,
        xMajor: range(0, 1, 0.2), xMinor: range(0, 1, 0.05), xFmt: d3.format(".1f"),
        labelX: i === 2, xPad: 5, font: leftFont, fs: 11.5, nudge: 4
    });
    drawMarks(xLeft, y, p.black, plusPath, "#000", 1.1);
    drawMarks(xLeft, y, p.green, plusPath, "#22e622", 1.1);
    drawLine(xLeft, y, p.fit, "#000", 1);
    const xs = redX.slice(redX.length - p.red.length);
    drawMarks(xLeft, y, xs.map((v, k) => [v, p.red[k]]), starPath, "#ff2a10", 1.1);
});

// ---------- right column ----------
const rightSets = [
    { dom: [0, 20], pts: sigmaR1, t: curveT1, green: greenR1, red: redR1 },
    { dom: [0, 20], pts: sigmaR2, t: curveT2, green: greenR2, red: redR2 },
    { dom: [0, 25], pts: sigmaR3, t: curveT3, green: greenR3, red: redR3 }
];

rightSets.forEach((p, i) => {
    const y = d3.scaleLinear().domain(p.dom).range([panelTop[i] + panelH, panelTop[i]]);
    drawFrame(xRight, y, {
        yMajor: range(p.dom[0], p.dom[1], 5), yMinor: range(p.dom[0], p.dom[1], 1), yFmt: d3.format("d"),
        xMajor: range(0, 60, 20), xMinor: range(0, 60, 5), xFmt: d3.format("d"),
        labelX: i === 2, xPad: 6.5, font: rightFont, fs: 11, nudge: 5
    });
    drawMarks(xRight, y, p.pts, bigPlus, "#141414", 1.2);
    drawLine(xRight, y, [[0, blueLevels[i]], [60, blueLevels[i]]], "#1f3fff", 1.3);
    drawLine(xRight, y, p.t.map((v, k) => [v, p.red[k]]), "#ff2a00", 1.3, d3.curveMonotoneX);
    drawLine(xRight, y, p.t.map((v, k) => [v, p.green[k]]), "#00d000", 1.6, d3.curveMonotoneX);
});

// ---------- titles ----------
svg.append("text")
    .attr("transform", "translate(14,171) rotate(-90)")
    .attr("text-anchor", "middle")
    .attr("font-family", leftFont).attr("font-size", 16)
    .text("Variance [Jy/beam]^2 x 10^4");

const xt = svg.append("text")
    .attr("x", 263).attr("y", 378.5)
    .attr("text-anchor", "middle")
    .attr("font-family", leftFont).attr("font-size", 16)
    .attr("letter-spacing", 2.5);
xt.append("tspan").text("1/t [s");
xt.append("tspan").attr("font-size", 10).attr("dy", -7).attr("letter-spacing", 0.5).text("\u22121");
xt.append("tspan").attr("dy", 7).text("]");

svg.append("text")
    .attr("transform", "translate(561,177) rotate(-90)")
    .attr("text-anchor", "middle")
    .attr("font-family", rightFont).attr("font-size", 12.8)
    .text("Sigma [mJy/beam]");

svg.append("text")
    .attr("x", 752).attr("y", 377)
    .attr("font-family", rightFont).attr("font-size", 12.8)
    .text("Integration Time [s]");
</script>
</body>
</html>
